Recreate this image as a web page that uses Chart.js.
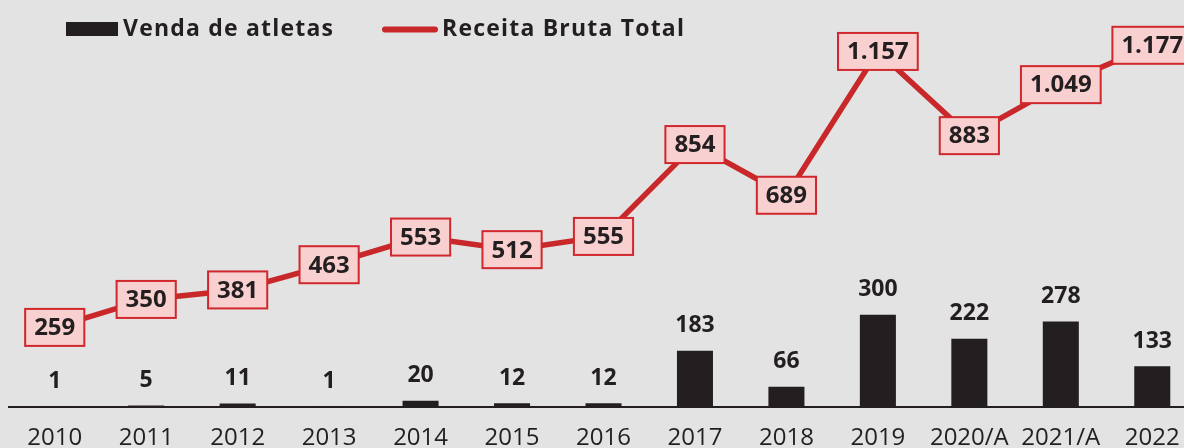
<!DOCTYPE html>
<html>
<head>
<meta charset="utf-8">
<script src="https://cdn.jsdelivr.net/npm/chart.js@4/dist/chart.umd.min.js"></script>
<style>
html,body{margin:0;padding:0;background:#e3e3e3;overflow:hidden;}
#wrap{position:relative;width:1200px;height:448px;}
</style>
</head>
<body>
<div id="wrap"><canvas id="c" width="1200" height="448"></canvas></div>
<script>
const categories = ['2010','2011','2012','2013','2014','2015','2016','2017','2018','2019','2020/A','2021/A','2022'];
const vendaAtletas = [1,5,11,1,20,12,12,183,66,300,222,278,133];
const receitaBruta = [259,350,381,463,553,512,555,854,689,1157,883,1049,1177];
const seriesNames = ['Venda de atletas','Receita Bruta Total'];

const FONT = '"Open Sans", "DejaVu Sans", sans-serif';
const DARK = '#231f20';
const RED = '#c9282a';

function fmt(v){ return v >= 1000 ? Math.floor(v/1000) + '.' + String(v%1000).padStart(3,'0') : String(v); }

const labelsPlugin = {
  id: 'labels',
  afterDatasetsDraw(chart){
    const ctx = chart.ctx;
    ctx.save();
    // bar labels
    const barMeta = chart.getDatasetMeta(0);
    ctx.font = 'bold 23px ' + FONT;
    ctx.fillStyle = DARK;
    ctx.textAlign = 'center';
    ctx.textBaseline = 'middle';
    barMeta.data.forEach((el, i) => {
      ctx.fillText(fmt(vendaAtletas[i]), el.x, el.y - 25);
    });
    // line labels in boxes
    const lineMeta = chart.getDatasetMeta(1);
    ctx.font = 'bold 24px ' + FONT;
    lineMeta.data.forEach((el, i) => {
      const t = fmt(receitaBruta[i]);
      const w = ctx.measureText(t).width + 18;
      const h = 37;
      ctx.fillStyle = '#f8d0d0';
      ctx.fillRect(el.x - w/2, el.y - h/2, w, h);
      ctx.strokeStyle = '#d0282c';
      ctx.lineWidth = 2;
      ctx.strokeRect(el.x - w/2, el.y - h/2, w, h);
      ctx.fillStyle = DARK;
      ctx.fillText(t, el.x, el.y + 1);
    });
    // legend
    ctx.fillStyle = DARK;
    ctx.fillRect(66, 22, 52, 14);
    ctx.font = 'bold 23px ' + FONT;
    ctx.textAlign = 'left';
    try { ctx.letterSpacing = '1.2px'; } catch(e) {}
    ctx.fillText(seriesNames[0], 123, 29);
    ctx.strokeStyle = RED;
    ctx.lineWidth = 6;
    ctx.lineCap = 'round';
    ctx.beginPath(); ctx.moveTo(385, 29.5); ctx.lineTo(435, 29.5); ctx.stroke();
    ctx.fillText(seriesNames[1], 442, 29);
    ctx.restore();
  }
};

new Chart(document.getElementById('c'), {
  data: {
    labels: categories,
    datasets: [
      { type: 'bar', label: seriesNames[0], data: vendaAtletas, backgroundColor: DARK,
        categoryPercentage: 1, barPercentage: 0.394, order: 2 },
      { type: 'line', label: seriesNames[1], data: receitaBruta, borderColor: RED, borderWidth: 5.5,
        pointRadius: 0, tension: 0, order: 1 }
    ]
  },
  options: {
    responsive: false,
    animation: false,
    events: [],
    layout: { padding: { left: 9, right: 2, top: 7.5, bottom: 0 } },
    plugins: { legend: { display: false }, tooltip: { enabled: false } },
    scales: {
      x: {
        grid: { display: false, drawTicks: false },
        border: { display: true, color: DARK, width: 2 },
        ticks: { color: DARK, font: { family: FONT, size: 24 }, padding: 17, maxRotation: 0, autoSkip: false },
        afterFit(s){ s.height = 41; }
      },
      y: { display: false, min: 0, max: 1300 }
    }
  },
  plugins: [labelsPlugin]
});
</script>
</body>
</html>
